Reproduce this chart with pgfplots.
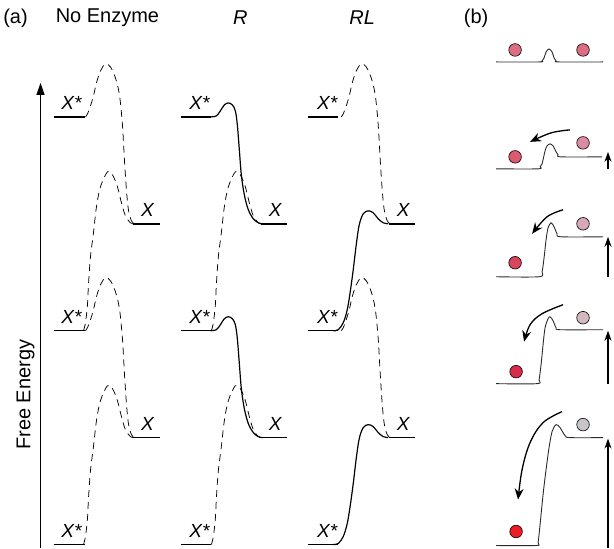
\documentclass[border=0pt]{standalone}
\usepackage{fontspec}
\setmainfont{Liberation Sans}
\usepackage{pgfplots}
\pgfplotsset{compat=1.18}
\usetikzlibrary{arrows.meta}
\definecolor{cA}{HTML}{DD6E82}
\definecolor{cBl}{HTML}{DC5A6E}
\definecolor{cBr}{HTML}{DC8CA0}
\definecolor{cCl}{HTML}{D7465F}
\definecolor{cCr}{HTML}{D8A8B8}
\definecolor{cDl}{HTML}{D72D4B}
\definecolor{cDr}{HTML}{D4B8C0}
\definecolor{cEl}{HTML}{EB1E28}
\definecolor{cEr}{HTML}{C8C4C8}
\definecolor{pb}{HTML}{2A2A2A}
\tikzset{
  lab/.style={font=\fontsize{20}{24}\selectfont},
  labi/.style={font=\fontsize{20}{24}\selectfont\itshape},
  xl/.style={font=\fontsize{19}{21}\selectfont\itshape},
}
\begin{document}
\begin{tikzpicture}
\begin{axis}[scale only axis, width=614pt, height=548pt,
  xmin=0, xmax=614, ymin=0, ymax=548, y dir=reverse,
  hide axis, clip=false,
  dsh/.style={black, line width=0.75pt, dash pattern=on 7pt off 5pt, smooth, tension=0.55},
  sol/.style={black, line width=1.2pt, smooth, tension=0.55},
  lvl/.style={black, line width=1.5pt},
  pbl/.style={pb, line width=0.9pt, smooth, tension=0.5},
  ball/.style={only marks, mark=*, mark size=6.3pt, mark options={draw=black, line width=0.6pt}},
  carr/.style={black, line width=1.3pt, smooth, tension=0.6, -{Stealth[length=11pt,width=9pt]}},
  varr/.style={black, line width=1.2pt, -{Stealth[length=10pt,width=7pt]}},
]
\addplot[draw=none] coordinates {(0,0) (614,548)};
% ---------- panel (a): level lines ----------
\addplot[lvl] coordinates {(53,117) (85,117)};
\addplot[lvl] coordinates {(53,331) (85,331)};
\addplot[lvl] coordinates {(53,545) (85,545)};
\addplot[lvl] coordinates {(181,117) (211,117)};
\addplot[lvl] coordinates {(181,331) (211,331)};
\addplot[lvl] coordinates {(181,545) (211,545)};
\addplot[lvl] coordinates {(308,117) (338,117)};
\addplot[lvl] coordinates {(308,331) (338,331)};
\addplot[lvl] coordinates {(308,545) (338,545)};
\addplot[lvl] coordinates {(133,224) (160,224)};
\addplot[lvl] coordinates {(133,438) (160,438)};
\addplot[lvl] coordinates {(261,224) (287,224)};
\addplot[lvl] coordinates {(261,438) (287,438)};
\addplot[lvl] coordinates {(389,224) (415,224)};
\addplot[lvl] coordinates {(389,438) (415,438)};
% No Enzyme dashed
\addplot[dsh] coordinates {(85,117) (87,114) (90,106) (93,96) (96,83) (100,71) (105,64) (110,67) (115,78) (119,95) (122,125) (124,160) (126,190) (128,210) (131,221) (134,224)};
\addplot[dsh] coordinates {(85,331) (87,328) (90,320) (93,310) (96,297) (100,285) (105,278) (110,281) (115,292) (119,309) (122,339) (124,374) (126,404) (128,424) (131,435) (134,438)};
\addplot[dsh] coordinates {(83,331) (85,323) (87,305) (88,285) (90,257) (93,233) (96,207) (100,187) (107,172) (112,175) (117,187) (121,203) (125,216) (130,223) (133,224)};
\addplot[dsh] coordinates {(83,545) (85,537) (87,519) (88,499) (90,471) (93,447) (96,421) (100,401) (107,386) (112,389) (117,401) (121,417) (125,430) (130,437) (133,438)};
% R column
\addplot[dsh] coordinates {(211,331) (213,323) (215,305) (216,285) (218,257) (221,233) (224,207) (228,187) (235,172) (240,175) (245,187) (249,203) (253,216) (258,223) (261,224)};
\addplot[dsh] coordinates {(211,545) (213,537) (215,519) (216,499) (218,471) (221,447) (224,421) (228,401) (235,386) (240,389) (245,401) (249,417) (253,430) (258,437) (261,438)};
\addplot[sol] coordinates {(210,117) (216,116) (220,111) (224,105) (228,103) (232,105) (235,111) (237,125) (239,150) (241,175) (244,195) (248,210) (253,219) (258,223) (262,224)};
\addplot[sol] coordinates {(210,331) (216,330) (220,325) (224,319) (228,317) (232,319) (235,325) (237,339) (239,364) (241,389) (244,409) (248,424) (253,433) (258,437) (262,438)};
% RL column
\addplot[dsh] coordinates {(341,117) (343,114) (346,106) (349,96) (352,83) (356,71) (361,64) (366,67) (371,78) (375,95) (378,125) (380,160) (382,190) (384,210) (387,221) (390,224)};
\addplot[dsh] coordinates {(341,331) (343,328) (346,320) (349,310) (352,297) (356,285) (361,278) (366,281) (371,292) (375,309) (378,339) (380,374) (382,404) (384,424) (387,435) (390,438)};
\addplot[sol] coordinates {(333,331) (338,330) (343,323) (347,310) (350,292) (353,270) (356,245) (359,225) (363,214) (368,211) (373,213) (378,219) (383,223) (388,224)};
\addplot[sol] coordinates {(333,545) (338,544) (343,537) (347,524) (350,506) (353,484) (356,459) (359,439) (363,428) (368,425) (373,427) (378,433) (383,437) (388,438)};
% free energy axis
\addplot[black, line width=1.3pt, -{Triangle[length=12pt,width=8pt]}] coordinates {(40,548) (40,83)};
% labels panel (a)
\node[lab] at (axis cs:15,18) {(a)};
\node[lab] at (axis cs:107,18) {No Enzyme};
\node[labi] at (axis cs:240,18) {R};
\node[labi] at (axis cs:362,18) {RL};
\node[lab] at (axis cs:476,18) {(b)};
\node[lab, rotate=90] at (axis cs:25,395) {Free Energy};
\node[xl] at (axis cs:71,103) {X*};
\node[xl] at (axis cs:71,317) {X*};
\node[xl] at (axis cs:71,531) {X*};
\node[xl] at (axis cs:199,103) {X*};
\node[xl] at (axis cs:199,317) {X*};
\node[xl] at (axis cs:199,531) {X*};
\node[xl] at (axis cs:327,103) {X*};
\node[xl] at (axis cs:327,317) {X*};
\node[xl] at (axis cs:327,531) {X*};
\node[xl] at (axis cs:147,210) {X};
\node[xl] at (axis cs:147,424) {X};
\node[xl] at (axis cs:275,210) {X};
\node[xl] at (axis cs:275,424) {X};
\node[xl] at (axis cs:403,210) {X};
\node[xl] at (axis cs:403,424) {X};
% ---------- panel (b) ----------
\addplot[pbl] coordinates {(496,62) (539,62) (542,61) (544,58) (546,52) (549,49) (552,52) (554,58) (556,61) (559,62) (603,62)};
\addplot[pbl] coordinates {(496,169) (538,169) (540,167) (542,164) (545,151) (547,146) (550,144) (553,146) (555,150) (558,155) (561,157) (602,157)};
\addplot[pbl] coordinates {(496,277) (539,277) (542,272) (544,258) (546,240) (548,228) (551,223) (554,227) (557,234) (561,237) (603,237)};
\addplot[pbl] coordinates {(496,384) (537,384) (539,380) (541,365) (543,345) (545,328) (548,319) (550,317) (553,321) (556,328) (560,330) (603,330)};
\addplot[pbl] coordinates {(496,546) (536,546) (538,543) (540,525) (543,495) (546,470) (549,448) (552,432) (556,425) (560,428) (565,436) (570,438) (603,438)};
% balls
\addplot[ball, fill=cA] coordinates {(515,50) (583,50)};
\addplot[ball, fill=cBl] coordinates {(515,157)};
\addplot[ball, fill=cBr] coordinates {(583,143)};
\addplot[ball, fill=cCl] coordinates {(515,263)};
\addplot[ball, fill=cCr] coordinates {(583,224)};
\addplot[ball, fill=cDl] coordinates {(516,372)};
\addplot[ball, fill=cDr] coordinates {(583,318)};
\addplot[ball, fill=cEl] coordinates {(516,532)};
\addplot[ball, fill=cEr] coordinates {(583,425)};
% curved arrows
\addplot[carr] coordinates {(570,130) (551,133) (530,142)};
\addplot[carr] coordinates {(563,210) (547,217) (532,234)};
\addplot[carr] coordinates {(563,305) (542,314) (530,325) (524,342)};
\addplot[carr] coordinates {(562,412) (543,423) (530,443) (522,470) (518,500)};
% vertical arrows
\addplot[varr] coordinates {(608,169) (608,152)};
\addplot[varr] coordinates {(608,277) (608,237)};
\addplot[varr] coordinates {(608,384) (608,331)};
\addplot[varr] coordinates {(608,548) (608,439)};
\end{axis}
\end{tikzpicture}
\end{document}
